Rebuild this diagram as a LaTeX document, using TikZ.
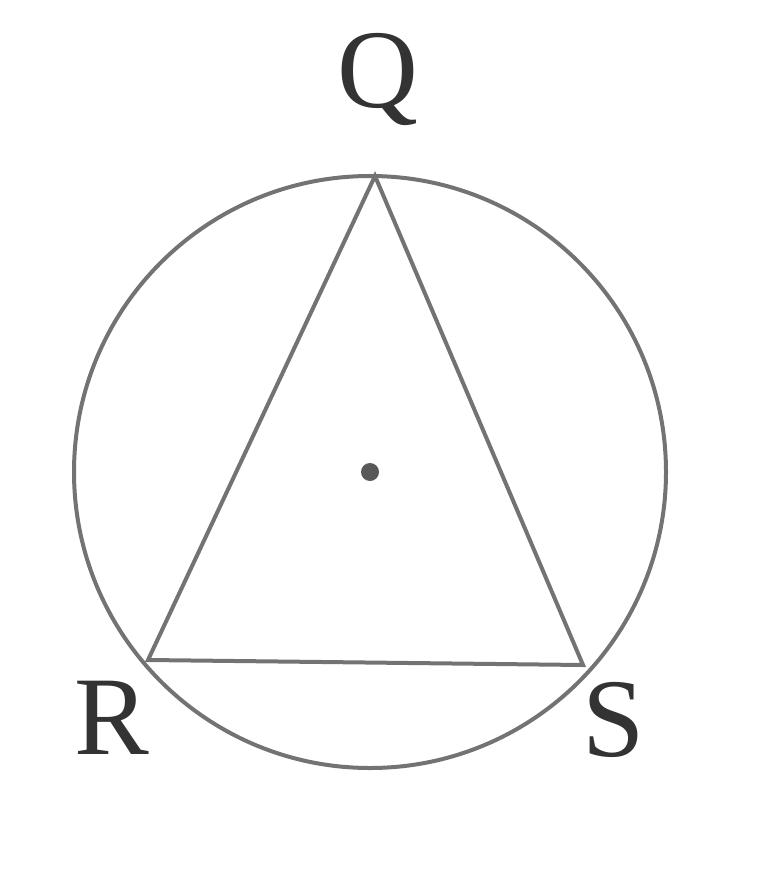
\documentclass[tikz,border=0pt]{standalone}
\usepackage{fontspec}
\setmainfont{Liberation Serif}
\begin{document}
\begin{tikzpicture}[x=1pt,y=-1pt,
  geo/.style={draw=black!55,line width=4pt},
  lbl/.style={text=black!80,font=\fontsize{112}{112}\selectfont,inner sep=0pt}]
\useasboundingbox (0,0) rectangle (775,869);
\coordinate (O) at (370,472);
\draw[geo] (O) circle[radius=296];
\coordinate (R) at (148,660);
\coordinate (S) at (583,665);
\coordinate (Q) at (375,176);
\draw[geo,line join=miter] (Q) -- (R) -- (S) -- cycle;
\fill[black!65] (O) circle[radius=9];
\node[lbl] (lQ) at (378,80) {Q};
\node[lbl] (lR) at (112,718) {R};
\node[lbl] (lS) at (614,720) {S};
\end{tikzpicture}
\end{document}
